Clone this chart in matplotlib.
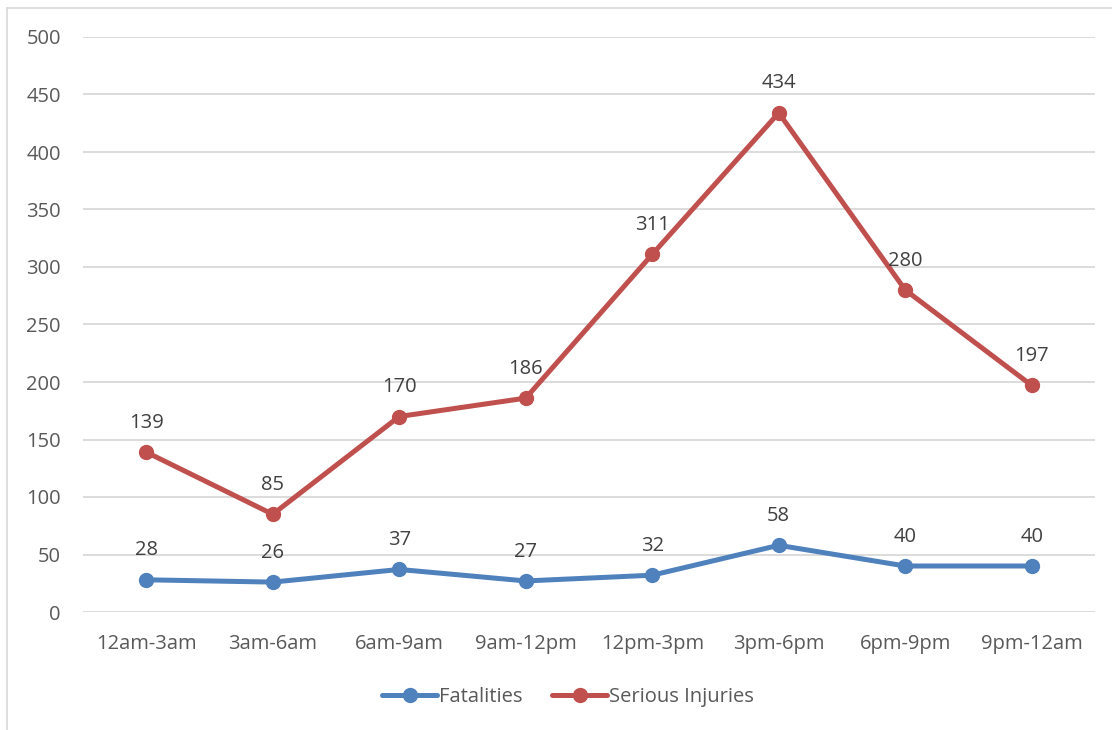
import matplotlib
matplotlib.use("Agg")
import matplotlib.pyplot as plt
from matplotlib.lines import Line2D

plt.rcParams['font.family'] = ['Open Sans', 'DejaVu Sans']

periods = ["12am-3am", "3am-6am", "6am-9am", "9am-12pm",
           "12pm-3pm", "3pm-6pm", "6pm-9pm", "9pm-12am"]
fatalities = [28, 26, 37, 27, 32, 58, 40, 40]
serious_injuries = [139, 85, 170, 186, 311, 434, 280, 197]
y_ticks = [0, 50, 100, 150, 200, 250, 300, 350, 400, 450, 500]

BLUE = "#4F81BD"
RED = "#C0504D"
TEXT = "#595959"
LABEL = "#404040"
GRID = "#D9D9D9"
FS = 14.5

fig = plt.figure(figsize=(11.12, 7.30), dpi=100)
ax = fig.add_axes([83 / 1112, 118 / 730, 1012 / 1112, 575 / 730])

x = list(range(len(periods)))
ax.plot(x, fatalities, color=BLUE, lw=3.6, marker="o", ms=10,
        solid_capstyle="round", label="Fatalities", zorder=3)
ax.plot(x, serious_injuries, color=RED, lw=3.6, marker="o", ms=10,
        solid_capstyle="round", label="Serious Injuries", zorder=3)

for series in (fatalities, serious_injuries):
    for xi, v in zip(x, series):
        ax.annotate(str(v), (xi, v), xytext=(0, 14), textcoords="offset points",
                    ha="center", va="bottom", fontsize=FS, color=LABEL)

ax.set_xlim(-0.5, len(periods) - 0.5)
ax.set_ylim(0, 500)
ax.set_yticks(y_ticks)
ax.set_xticks(x)
ax.set_xticklabels(periods)
ax.tick_params(axis="both", length=0, labelsize=FS, labelcolor=TEXT)
ax.tick_params(axis="y", pad=16)
ax.tick_params(axis="x", pad=16)
ax.grid(axis="y", color=GRID, lw=1.3)
ax.set_axisbelow(True)
for s in ax.spines.values():
    s.set_visible(False)

leg = fig.legend(loc="center", bbox_to_anchor=(568 / 1112, 1 - 697 / 730),
                 ncol=2, frameon=False, fontsize=FS, handlelength=2.7,
                 handletextpad=0.1, columnspacing=1.5)
for t in leg.get_texts():
    t.set_color(TEXT)

# light outer frame (top and left edges)
fig.add_artist(Line2D([7 / 1112, 1.0], [1 - 8 / 730, 1 - 8 / 730],
                      transform=fig.transFigure, color=GRID, lw=1.2))
fig.add_artist(Line2D([7 / 1112, 7 / 1112], [0, 1 - 8 / 730],
                      transform=fig.transFigure, color=GRID, lw=1.2))

fig.savefig("out.png", dpi=100, facecolor="white")
